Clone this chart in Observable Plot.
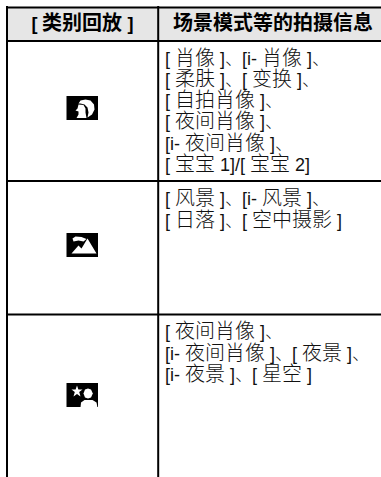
<!DOCTYPE html>
<html><head><meta charset="utf-8">
<script src="https://cdn.jsdelivr.net/npm/d3@7"></script>
<script src="https://cdn.jsdelivr.net/npm/@observablehq/plot@0.6"></script>
<style>html,body{margin:0;padding:0;background:#fff}svg{display:block}
@font-face{font-family:"CJKWide";src:local("Noto Sans CJK SC Light"),local("NotoSansCJKsc-Light"),local("Noto Sans CJK SC");font-weight:400;size-adjust:111%;unicode-range:U+3002-303F,U+4E00-9FFF}
@font-face{font-family:"CJKWide";src:local("Noto Sans CJK SC Bold"),local("NotoSansCJKsc-Bold");font-weight:700;size-adjust:111%;unicode-range:U+3002-303F,U+4E00-9FFF}
@font-face{font-family:"CJKWide";src:local("Noto Sans CJK SC Light"),local("NotoSansCJKsc-Light"),local("Noto Sans CJK SC");font-weight:400;size-adjust:97%;unicode-range:U+3001}
</style>
</head><body><div id="chart"></div>
<script>
const headers = [
  {text: "[ 类别回放 ]", col: 82},
  {text: "场景模式等的拍摄信息", col: 272}
];
const bodyLines = [
  {text: "[ 肖像 ]、[i- 肖像 ]、", row: 58.5},
  {text: "[ 柔肤 ]、[ 变换 ]、", row: 79.5},
  {text: "[ 自拍肖像 ]、", row: 100.5},
  {text: "[ 夜间肖像 ]、", row: 122},
  {text: "[i- 夜间肖像 ]、", row: 143.5},
  {text: "[ 宝宝 1]/[ 宝宝 2]", row: 165},
  {text: "[ 风景 ]、[i- 风景 ]、", row: 199},
  {text: "[ 日落 ]、[ 空中摄影 ]", row: 220.5},
  {text: "[ 夜间肖像 ]、", row: 332},
  {text: "[i- 夜间肖像 ]、[ 夜景 ]、", row: 353.5},
  {text: "[i- 夜景 ]、[ 星空 ]", row: 375}
];
const headerBand = [{x1: 8, x2: 381, y1: 8, y2: 40}];
const hLines = [7, 40.5, 180.5, 314];
const vLines = [6.5, 157.7];
const iconBoxes = [
  {x1: 66.5, x2: 98, y1: 96, y2: 120},
  {x1: 66.5, x2: 98, y1: 233, y2: 257},
  {x1: 66.5, x2: 98, y1: 383, y2: 407}
];
const glyphs = [
  {id:"hair", pts:[[78,103],[80,100],[85,99],[90,100],[93.5,104],[94,109],[91.5,114],[87,117],[88,112],[87,107],[84,104],[80,103]]},
  {id:"face", pts:[[78,104],[83,104.5],[85,108],[85,112],[86,117.5],[76,117.5],[78,114],[78,111],[75,110],[77,108]]},
  {id:"cloud", pts:[[72,238],[75,236],[81,236.5],[86,238.5],[83,241],[78,240],[73,241]]},
  {id:"mount1", pts:[[71,253],[78,245],[81,248],[87,238],[96,253]]},
  {id:"star", pts:[[76.5,385],[77.9,389],[82,389],[78.7,391.6],[80,396],[76.5,393.4],[73,396],[74.3,391.6],[71,389],[75.1,389]]},
  {id:"head", pts:[[87.5,388],[90.5,389],[92.3,393],[90.5,397],[87.5,398],[84.5,397],[83,393],[84.5,389]]},
  {id:"body", pts:[[80,407],[80.5,402],[84,399.5],[92,399.5],[96,402],[97,407]]}
];
const glyphRows = glyphs.flatMap(g => g.pts.map(([x, y]) => ({id: g.id, x, y})));
const font = '"Liberation Sans","CJKWide","Noto Sans CJK SC",sans-serif';
const chart = Plot.plot({
  width: 381, height: 477, margin: 0,
  x: {domain: [0, 381], range: [0, 381], axis: null},
  y: {domain: [0, 477], range: [0, 477], axis: null},
  marks: [
    Plot.rect(headerBand, {x1: "x1", x2: "x2", y1: "y1", y2: "y2", fill: "#e6e6e6"}),
    Plot.ruleY(hLines, {x1: 6, x2: 381, stroke: "#000", strokeWidth: 2}),
    Plot.ruleX(vLines, {y1: 6, y2: 477, stroke: "#000", strokeWidth: 2}),
    Plot.text(headers, {x: "col", y: 24, text: "text", fontSize: 18, fontWeight: "bold", fill: "#000", fontFamily: font}),
    Plot.text(bodyLines, {x: 164.5, y: "row", text: "text", textAnchor: "start", fontSize: 18, fill: "#111", fontFamily: font, lineAnchor: "middle"}),
    Plot.rect(iconBoxes, {x1: "x1", x2: "x2", y1: "y1", y2: "y2", fill: "#000"}),
    Plot.line(glyphRows, {x: "x", y: "y", z: "id", fill: "#fff", stroke: null, curve: "linear"})
  ]
});
document.getElementById("chart").append(chart);
</script></body></html>
